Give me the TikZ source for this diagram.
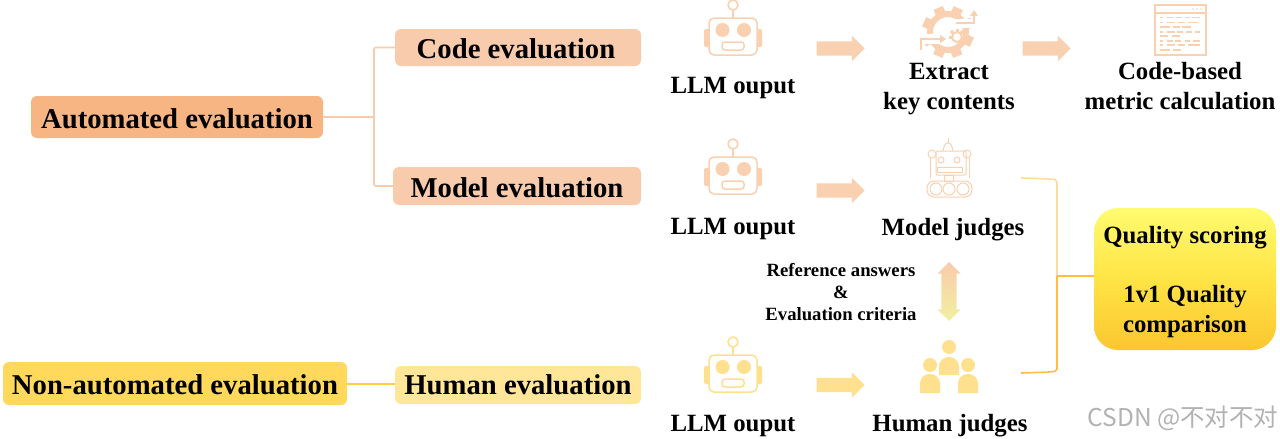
\documentclass[tikz,border=0pt]{standalone}
\usepackage{fontspec}
\setmainfont{Liberation Serif}
\newfontfamily\markfont{Noto Sans CJK SC}
\usetikzlibrary{shapes.arrows}
\definecolor{boxauto}{HTML}{F6B583}
\definecolor{boxorange}{HTML}{F8CBAD}
\definecolor{boxnon}{HTML}{FFD85C}
\definecolor{boxyellow}{HTML}{FFE699}
\definecolor{iconorange}{HTML}{F9D0B0}
\definecolor{iconyellow}{HTML}{FFE08F}
\definecolor{linkyellow}{HTML}{FFCF40}
\definecolor{arrowpale}{HTML}{F2F0A0}
\definecolor{qualitytop}{HTML}{FFFB70}
\definecolor{qualitymid}{HTML}{FFE445}
\definecolor{qualitybot}{HTML}{FBC62F}
\tikzset{
  evalbox/.style={rounded corners=6pt, inner sep=0pt, text height=22pt, text depth=0pt, font=\bfseries\fontsize{28.7}{30}\selectfont},
  label/.style={align=center, inner sep=0pt, font=\bfseries\fontsize{24.8}{30}\selectfont},
  flowarrow/.style={single arrow, draw=none, inner sep=7pt, minimum height=48pt, single arrow head extend=5.5pt},
  branch/.style={line width=1.6pt, rounded corners=2pt},
  pics/llmbot/.style={code={
    \draw[#1, line width=1.5pt] (0,5) circle (5pt);
    \draw[#1, line width=1.5pt] (0,10) -- (0,18);
    \fill[#1, rounded corners=2pt] (-29,29) rectangle (-22,47);
    \fill[#1, rounded corners=2pt] (22,29) rectangle (29,47);
    \draw[#1, fill=white, line width=1.5pt, rounded corners=5pt] (-24,18) rectangle (24,55);
    \fill[#1] (-10.5,30) circle (7pt);
    \fill[#1] (11,30) circle (7pt);
    \draw[#1, line width=1.5pt, rounded corners=3pt] (-11,42) rectangle (11,50);
  }}
}
\begin{document}
\begin{tikzpicture}[x=1pt,y=-1pt]
  \useasboundingbox (0,0) rectangle (1280,439);
  % Left boxes
  \node[evalbox, fill=boxauto, minimum width=292pt, minimum height=42pt] (auto) at (177,117) {Automated evaluation};
  \node[evalbox, fill=boxorange, minimum width=246pt, minimum height=37pt] (code) at (518,47.5) {\kern-4pt Code evaluation};
  \node[evalbox, fill=boxorange, minimum width=248pt, minimum height=38pt] (model) at (517,186) {Model evaluation};
  \node[evalbox, fill=boxnon, minimum width=344pt, minimum height=43pt] (nonauto) at (175,383.5) {Non-automated evaluation};
  \node[evalbox, fill=boxyellow, minimum width=246pt, minimum height=38pt] (human) at (518,385) {\raisebox{1.5pt}{Human evaluation}};
  % Branches
  \coordinate (trunk) at (374,117);
  \draw[branch, boxorange] (auto.east) -- (trunk);
  \draw[branch, boxorange] (code.west) -| (trunk) |- (model.west);
  \draw[line width=2pt, linkyellow] (nonauto.east) -- (nonauto.east -| human.west);
  % Robots
  \pic at (733,0) {llmbot=iconorange};
  \pic at (733,139) {llmbot=iconorange};
  \pic at (733,337) {llmbot=iconyellow};
  \node[label] (out1) at (733,88) {LLM ouput};
  \node[label] (out2) at (733,229) {LLM ouput};
  \node[label] (out3) at (733,426) {LLM ouput};
  % Flow arrows
  \node[flowarrow, fill=iconorange] (flow1) at (837,48.5) {};
  \node[flowarrow, fill=iconorange] (flow2) at (1043,48.5) {};
  \node[flowarrow, fill=iconorange] (flow3) at (837,190.5) {};
  \node[flowarrow, fill=iconyellow] (flow4) at (837,385) {};
  % Gear icon
  \draw[iconorange, line width=6pt] (948,32) circle (18pt);
  \foreach \a in {0,45,...,315} {
    \fill[iconorange, shift={(948,32)}, rotate=\a+22] (-5,-26) rectangle (5,-19);
  }
  \draw[white, line width=9pt] (952,23) -- (980,23);
  \draw[white, line width=10pt] (918,39) -- (948,39);
  \draw[iconorange, line width=2.4pt] (956,23) -- (974,23) -- (974,15);
  \fill[iconorange] (970,16) -- (974,10) -- (978,16) -- cycle;
  \draw[iconorange, line width=2.4pt] (921,50) -- (921,39) -- (941,39);
  \fill[iconorange] (940,35) -- (946,39) -- (940,43) -- cycle;
  \draw[iconorange, line width=2pt] (957,37) circle (5pt);
  \foreach \a in {-90,-45,...,90} {
    \fill[iconorange, shift={(957,37)}, rotate=\a] (-1.5,-8.5) rectangle (1.5,-5);
  }
  \node[label] (extract) at (949,89) {Extract\\key contents};
  % Code page icon
  \draw[iconorange, line width=1.4pt] (1155,5) rectangle (1206,55);
  \draw[iconorange, line width=1.4pt] (1155,13) -- (1206,13);
  \foreach \x in {1193,1197,1201} {
    \fill[iconorange] (\x,9) circle (0.9pt);
  }
  \foreach \y/\row in {17.5/{30/40,50/70,77/95,105/120,125/150},
    22.7/{30/40,50/75,85/105,115/143},
    27/{30/60,70/90,95/122},
    32/{30/40,50/75,82/100,108/125,135/150},
    36/{30/55,65/90},
    41/{30/40,50/70,75/92,105/120,130/150},
    45/{30/40,50/75,85/105,115/150},
    50/{30/60,70/92}} {
    \foreach \a/\b in \row {
      \draw[iconorange, line width=1.1pt] (1150+\a/3,\y) -- (1150+\b/3,\y);
    }
  }
  \node[label] (metric) at (1180,86.5) {Code-based\\metric calculation};
  % Model judge icon
  \begin{scope}[iconorange, line width=1pt]
    \draw (948,138) -- (948,143);
    \draw[rounded corners=3pt] (943,151) -- (945,143) -- (951,143) -- (953,151);
    \draw[rounded corners=1pt] (936,151) rectangle (966,175);
    \draw (932,154) circle (4pt);
    \draw (967,154) circle (4pt);
    \draw (941,160) circle (3pt);
    \draw (957,160) circle (3pt);
    \draw (937,167) rectangle (962,172);
    \draw (930,158) -- (930,178);
    \draw (969,158) -- (969,178);
    \draw (944,175) rectangle (953,181);
    \draw[rounded corners=7pt] (927,181) rectangle (972,197);
    \foreach \x in {936,949,963} {
      \draw (\x,189) circle (6pt);
    }
  \end{scope}
  \node[label] (modeljudge) at (953,230) {Model judges};
  % Reference arrow and text
  \node[double arrow, draw=none, rotate=90, inner sep=7.5pt, minimum height=59pt, double arrow head extend=4pt, double arrow tip angle=90, left color=boxorange, right color=arrowpale, shading angle=0] (refarrow) at (949,291.5) {};
  \node[align=center, inner sep=0pt, font=\bfseries\fontsize{18.7}{22}\selectfont] (ref) at (841,292) {Reference answers\\\&\\Evaluation criteria};
  % Human judge icon
  \fill[iconyellow] (949,347) circle (7pt);
  \fill[iconyellow] (930,365) circle (7pt);
  \fill[iconyellow] (968,365) circle (7pt);
  \foreach \x/\y/\z in {939/375/357, 920/393/374, 958/393/374} {
    \fill[iconyellow] (\x,\y) [rounded corners=9.5pt] -- (\x,\z) -- (\x+20,\z) [sharp corners] -- (\x+20,\y) -- cycle;
  }
  \node[label] (humanjudge) at (950,426) {Human judges};
  % Quality box
  \node[rounded corners=24pt, minimum width=182pt, minimum height=142pt, top color=qualitytop, bottom color=qualitybot, middle color=qualitymid, draw=none, inner sep=0pt] (quality) at (1185,279) {};
  \node[label] (scoring) at (1185,238) {Quality scoring};
  \node[label] (compare) at (1185,312) {1v1 Quality\\comparison};
  % Bracket
  \coordinate (topend) at (1021,178);
  \coordinate (botend) at (1021,373);
  \coordinate (joint) at (1057,276);
  \draw[branch, iconyellow!70!orange!60!white] (topend) -- (1050,179) -- (1057,180) -- (joint);
  \draw[branch, boxnon!70!orange] (joint) -- (1057,371) -- (1050,372) -- (botend);
  \draw[branch, boxnon!70!orange] (joint) -- (quality.west |- joint);
  % Watermark
  \node[inner sep=0pt, text=black!30, font=\markfont\fontsize{24.5}{26}\selectfont] (mark) at (1183,418) {CSDN @不对不对};
\end{tikzpicture}
\end{document}
